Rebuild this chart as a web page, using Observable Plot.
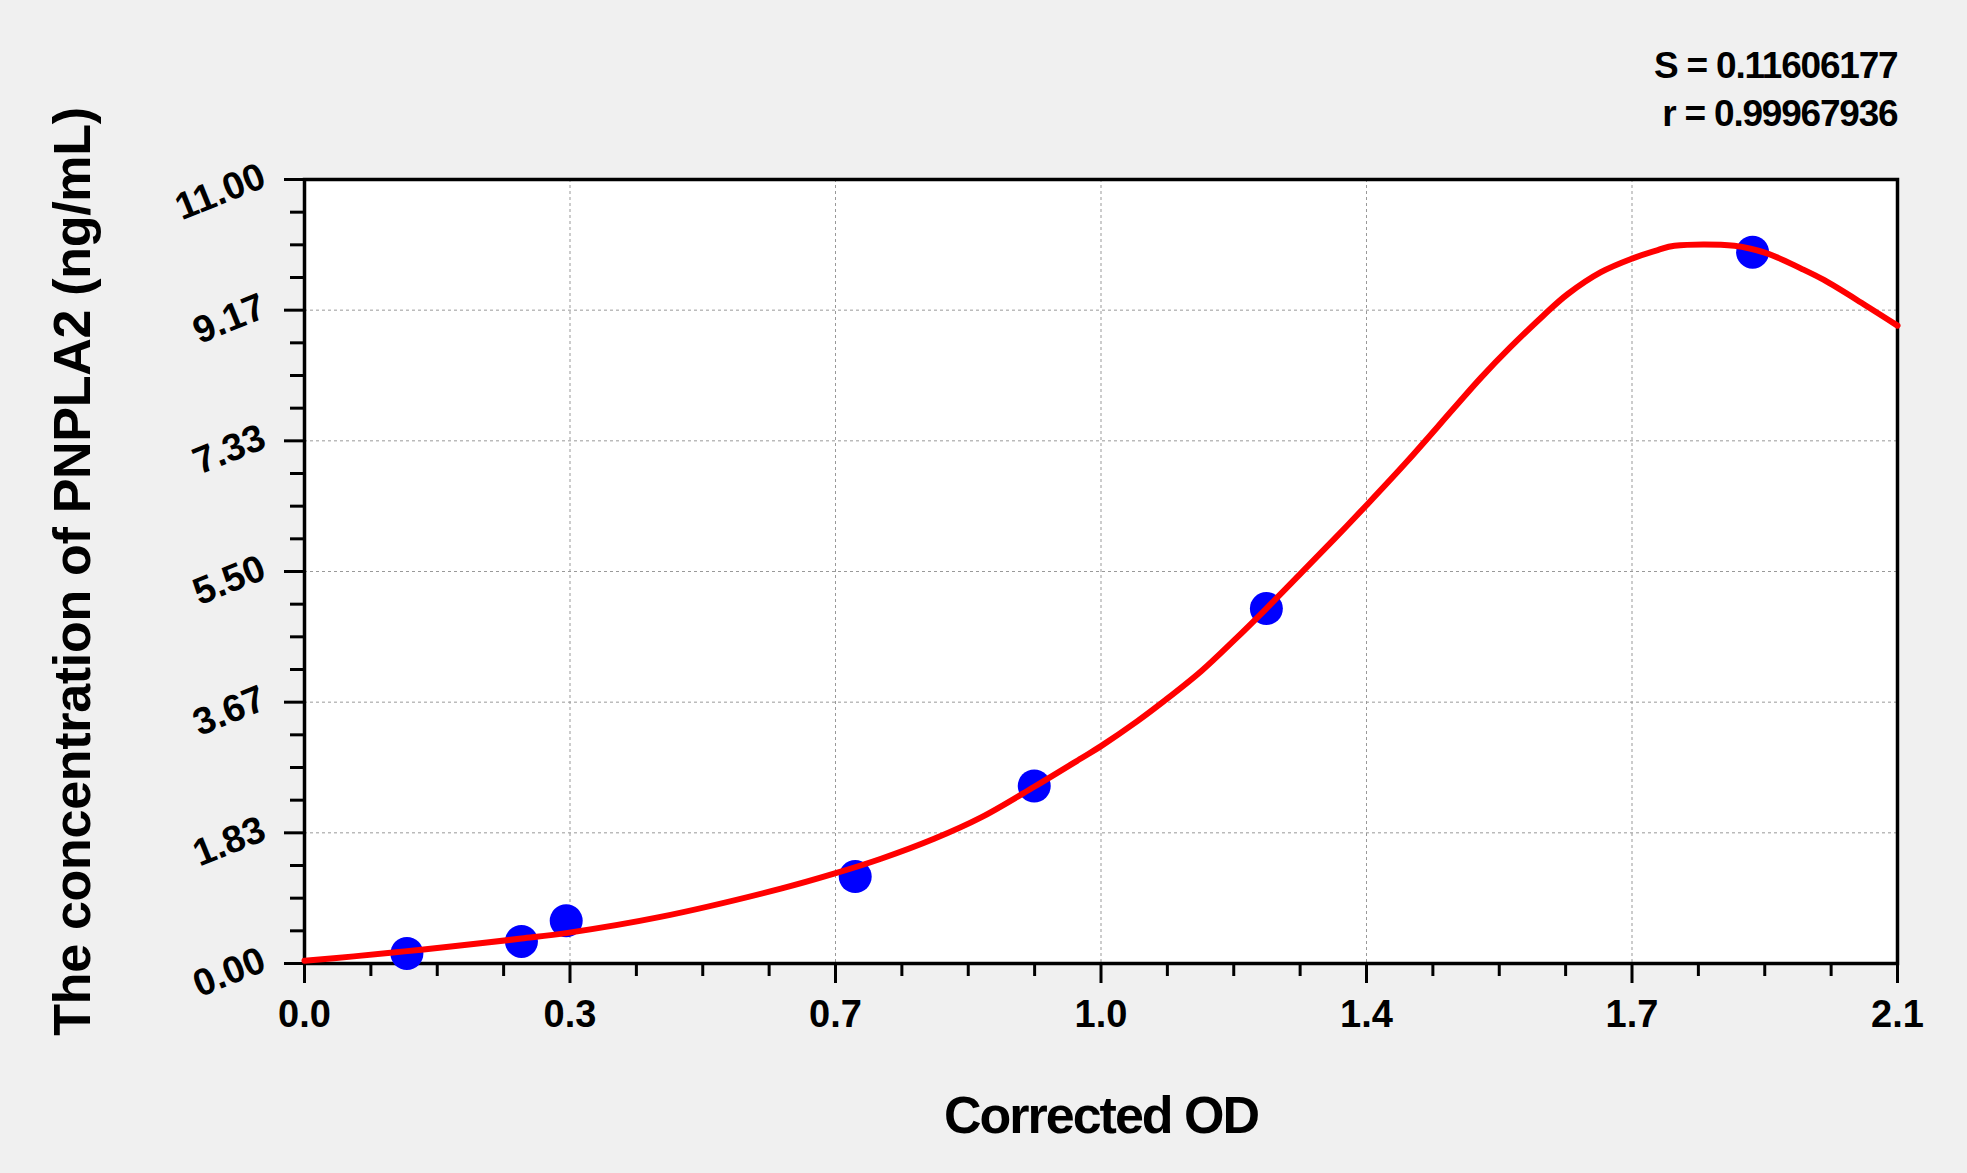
<!DOCTYPE html>
<html>
<head>
<meta charset="utf-8">
<script src="https://cdn.jsdelivr.net/npm/d3@7"></script>
<script src="https://cdn.jsdelivr.net/npm/@observablehq/plot@0.6"></script>
<style>
  html, body { margin: 0; padding: 0; background: #f0f0f0; overflow: hidden; }
  #chart svg { display: block; }
</style>
</head>
<body>
<div id="chart"></div>
<script>
// Standard points (Corrected OD vs concentration)
const dotOD   = [0.135, 0.286, 0.345, 0.726, 0.962, 1.268, 1.909];
const dotConc = [0.14, 0.31, 0.60, 1.22, 2.49, 4.98, 9.98];

// Fitted curve
const curveOD   = [0, 0.065, 0.132, 0.199, 0.286, 0.347, 0.4675, 0.628, 0.698, 0.760, 0.830, 0.892, 0.962, 1.024, 1.050, 1.098, 1.133, 1.182, 1.226, 1.268, 1.314, 1.358, 1.400, 1.454, 1.516, 1.551, 1.590, 1.634, 1.665, 1.709, 1.750, 1.784, 1.806, 1.885, 1.929, 1.973, 2.003, 2.057, 2.1];
const curveConc = [0.04, 0.10, 0.17, 0.245, 0.35, 0.43, 0.65, 1.05, 1.26, 1.47, 1.75, 2.05, 2.48, 2.88, 3.05, 3.40, 3.68, 4.10, 4.54, 4.98, 5.48, 5.96, 6.43, 7.05, 7.80, 8.22, 8.65, 9.10, 9.39, 9.70, 9.89, 10.01, 10.07, 10.07, 9.96, 9.75, 9.59, 9.24, 8.95];

// Axes
const xTicks = [0, 0.35, 0.7, 1.05, 1.4, 1.75, 2.1];
const xTickLabels = ["0.0", "0.3", "0.7", "1.0", "1.4", "1.7", "2.1"];
const yTicks = [0, 11 / 6, 22 / 6, 33 / 6, 44 / 6, 55 / 6, 11];
const yTickLabels = ["0.00", "1.83", "3.67", "5.50", "7.33", "9.17", "11.00"];

// Texts
const statLines = ["S = 0.11606177", "r = 0.99967936"];
const xTitle = "Corrected OD";
const yTitle = "The concentration of PNPLA2 (ng/mL)";

const dots = dotOD.map((x, i) => ({x, y: dotConc[i]}));
const curve = curveOD.map((x, i) => ({x, y: curveConc[i]}));
const xMinor = d3.range(25).map(i => i * 2.1 / 24).filter((d, i) => i % 4 !== 0);
const yMinor = d3.range(25).map(i => i * 11 / 24).filter((d, i) => i % 4 !== 0);
const xLabelOf = new Map(xTicks.map((v, i) => [v, xTickLabels[i]]));

const font = "'Liberation Sans', Arial, Helvetica, sans-serif";

const chart = Plot.plot({
  width: 1967,
  height: 1173,
  marginLeft: 304,
  marginRight: 70,
  marginTop: 179,
  marginBottom: 210,
  style: {background: "transparent", fontFamily: font, fontWeight: "bold", color: "black", fontSize: "37px"},
  x: {domain: [0, 2.1]},
  y: {domain: [0, 11]},
  marks: [
    Plot.frame({fill: "white", stroke: null}),
    Plot.gridX(xTicks, {stroke: "#999", strokeOpacity: 1, strokeWidth: 1, strokeDasharray: "3,3"}),
    Plot.gridY(yTicks, {stroke: "#999", strokeOpacity: 1, strokeWidth: 1, strokeDasharray: "3,3"}),
    Plot.axisX(xMinor, {tickSize: 13, strokeWidth: 3, tickFormat: () => "", label: null}),
    Plot.axisX(xTicks, {tickSize: 20, strokeWidth: 3, tickPadding: 17, tickFormat: d => xLabelOf.get(d), label: null, fontSize: 38, fontWeight: "bold"}),
    Plot.axisY(yMinor, {tickSize: 14, strokeWidth: 3, tickFormat: () => "", label: null}),
    Plot.axisY(yTicks, {tickSize: 20, strokeWidth: 3, tickFormat: () => "", label: null}),
    Plot.text(yTicks, {y: d => d, text: (d, i) => yTickLabels[i], frameAnchor: "left", dx: -41, dy: -5, rotate: -22, textAnchor: "end", lineAnchor: "middle", fontSize: 38, fontWeight: "bold"}),
    Plot.frame({stroke: "black", strokeWidth: 3.5}),
    Plot.dot(dots, {x: "x", y: "y", r: 16.5, fill: "#0000ff", stroke: null}),
    Plot.line(curve, {x: "x", y: "y", stroke: "#ff0000", strokeWidth: 6, curve: "catmull-rom"}),
    Plot.text([statLines[0]], {frameAnchor: "top-right", dy: -102, textAnchor: "end", lineAnchor: "bottom", fontSize: 37, fontWeight: "bold"}),
    Plot.text([statLines[1]], {frameAnchor: "top-right", dy: -54, textAnchor: "end", lineAnchor: "bottom", fontSize: 37, fontWeight: "bold"}),
    Plot.text([xTitle], {frameAnchor: "bottom", dy: 169, lineAnchor: "bottom", fontSize: 52, fontWeight: "bold"}),
    Plot.text([yTitle], {frameAnchor: "left", dx: -215, rotate: -90, textAnchor: "middle", lineAnchor: "bottom", fontSize: 52, fontWeight: "bold"})
  ]
});

d3.select(chart).selectAll("text")
  .filter(function () { return this.textContent === xTitle; })
  .attr("letter-spacing", "-2");
d3.select(chart).selectAll("text")
  .filter(function () { return this.textContent === yTitle; })
  .attr("letter-spacing", "-0.3");
d3.select(chart).selectAll("text")
  .filter(function () { return statLines.includes(this.textContent); })
  .attr("letter-spacing", "-1.2");

document.getElementById("chart").appendChild(chart);
</script>
</body>
</html>
